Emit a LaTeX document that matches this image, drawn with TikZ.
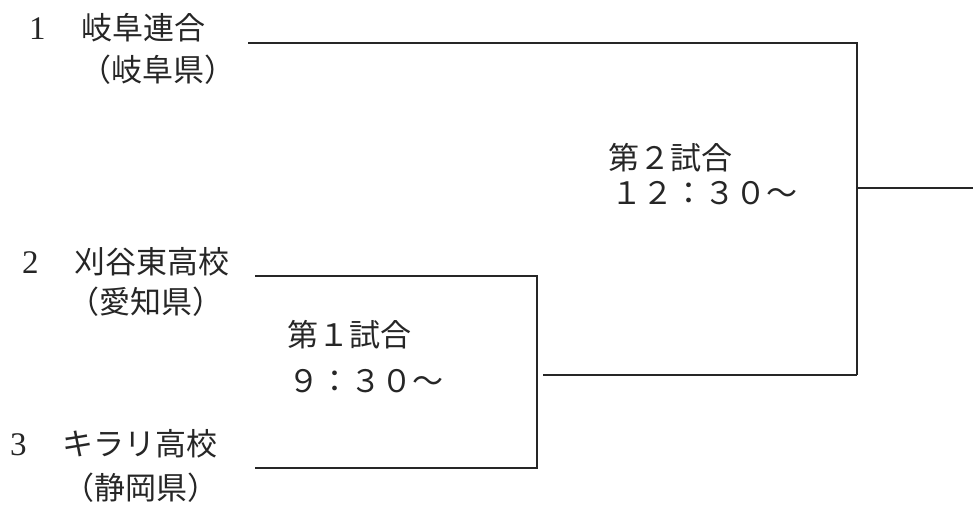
\documentclass[tikz,border=0pt]{standalone}
\usepackage{fontspec}
\setmainfont{Liberation Serif}
\newfontfamily\jp{Noto Sans CJK JP}
\begin{document}
\begin{tikzpicture}[x=1pt,y=-1pt,
  lbl/.style={anchor=west,inner sep=0pt,font=\fontsize{31}{31}\selectfont\jp,text=black!85},
  team/.style={anchor=west,inner sep=0pt,font=\fontsize{33}{33}\selectfont,text=black!85},
  jpt/.style={font=\fontsize{31}{31}\selectfont\jp},
  bline/.style={line width=1.8pt,draw=black!85}]
\useasboundingbox[fill=white] (0,0) rectangle (973,504);
% teams
\node[team] (n1) at (29,28) {1\hspace{35.5pt}{\fontsize{31}{31}\selectfont\jp 岐阜連合}};
\node[lbl] (p1) at (80,70) {（岐阜県）};
\node[team] (n2) at (22,262) {2\hspace{35.5pt}{\fontsize{31}{31}\selectfont\jp 刈谷東高校}};
\node[lbl] (p2) at (68,302) {（愛知県）};
\node[team] (n3) at (10,444) {3\hspace{35.5pt}{\fontsize{31}{31}\selectfont\jp キラリ高校}};
\node[lbl] (p3) at (63,488) {（静岡県）};
% match labels
\node[lbl] (m1) at (287,335) {第１試合};
\node[lbl] (m1t) at (288,381) {９：３０～};
\node[lbl] (m2) at (608,158) {第２試合};
\node[lbl] (m2t) at (611,193) {１２：３０～};
% bracket coordinates
\coordinate (a1) at (248,43);
\coordinate (a1r) at (857,43);
\coordinate (a2) at (255,276);
\coordinate (a2r) at (537,276);
\coordinate (a3) at (255,468);
\coordinate (a3r) at (537,468);
\coordinate (w1) at (543,375);
\coordinate (w1r) at (857,375);
\coordinate (w2) at (857,188);
\coordinate (w2r) at (973,188);
% bracket lines
\draw[bline] (a2) -- (a2r) -- (a3r) -- (a3);
\draw[bline] (w1) -- (w1r);
\draw[bline] (a1) -- (a1r) -- (w1r);
\draw[bline] (w2) -- (w2r);
\end{tikzpicture}
\end{document}
